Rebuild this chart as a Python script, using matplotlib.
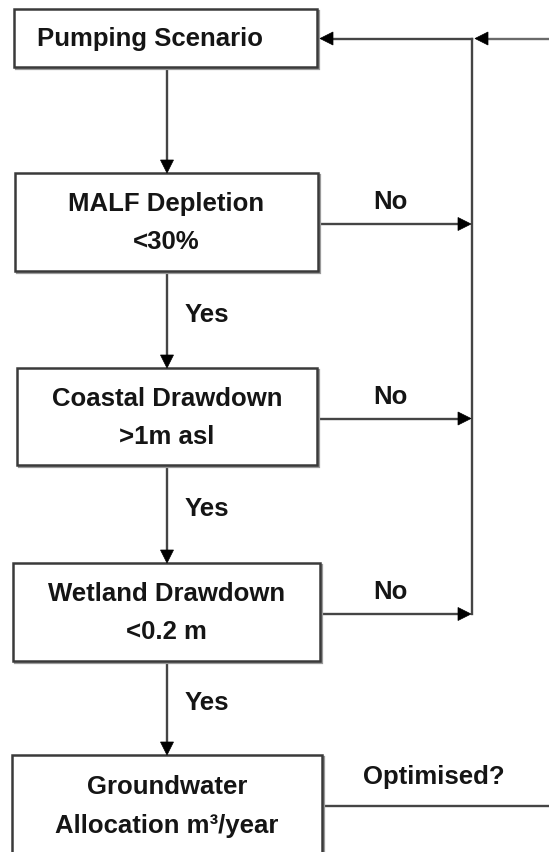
import matplotlib.pyplot as plt
from matplotlib.patches import Rectangle, Polygon

# flowchart text
box_labels = ["Pumping Scenario",
              "MALF Depletion\n<30%",
              "Coastal Drawdown\n>1m asl",
              "Wetland Drawdown\n<0.2 m",
              "Groundwater\nAllocation m\u00b3/year"]
yes_label = "Yes"
no_label = "No"
loop_label = "Optimised?"

W, H = 549, 852
fig = plt.figure(figsize=(W / 100, H / 100), dpi=100)
ax = fig.add_axes([0, 0, 1, 1])
ax.set_xlim(0, W)
ax.set_ylim(H, 0)
ax.axis('off')

# layout in pixels (y measured from the top)
box_x = [(14, 317), (15, 318), (17, 317), (13, 320), (12, 322)]
box_y = [(9, 67), (173, 271), (368, 465), (563, 661), (755, 856)]
stem_x = 167
loop_x = 472
top_y = 38.5
opt_y = 806
no_x = 390
yes_x = 207

font = dict(family=['Liberation Sans', 'DejaVu Sans'], fontweight='bold',
            fontsize=18.5, color='#151515')
line_col = '#454545'
head_col = '#000000'
lw = 1.7


def head(x, y, d, L=13, w=6.5):
    # filled arrowhead with its tip at (x, y)
    if d == 'down':
        pts = [(x, y), (x - w, y - L), (x + w, y - L)]
    elif d == 'right':
        pts = [(x, y), (x - L, y - w), (x - L, y + w)]
    else:
        pts = [(x, y), (x + L, y - w), (x + L, y + w)]
    ax.add_patch(Polygon(pts, closed=True, fc=head_col, ec=head_col, lw=0.5, zorder=4))


# boxes
for i, lab in enumerate(box_labels):
    x0, x1 = box_x[i]
    y0, y1 = box_y[i]
    ax.add_patch(Rectangle((x0 + 1.5, y0 + 1.5), x1 - x0, y1 - y0, fc='none',
                           ec='#9a9a9a', lw=1.6, zorder=2))
    ax.add_patch(Rectangle((x0, y0), x1 - x0, y1 - y0, fc='white',
                           ec='#3a3a3a', lw=1.8, zorder=3))
    lines = lab.split('\n')
    if len(lines) == 1:
        ax.text(x0 + 23, (y0 + y1) / 2 + 1, lab, ha='left', va='center', zorder=5, **font)
    else:
        cy = (y0 + y1) / 2 + 1
        ax.text((x0 + x1) / 2, cy - 19, lines[0], ha='center', va='center', zorder=5, **font)
        ax.text((x0 + x1) / 2, cy + 19, lines[1], ha='center', va='center', zorder=5, **font)

# downward arrows between boxes
for i in range(len(box_labels) - 1):
    yb = box_y[i][1]
    yt = box_y[i + 1][0]
    ax.plot([stem_x, stem_x], [yb, yt - 10], color=line_col, lw=lw, zorder=1)
    head(stem_x, yt, 'down')
    if i > 0:
        ax.text(yes_x, (yb + yt) / 2 - 5, yes_label, ha='center', va='center', **font)

# "No" branches to the return line
no_ys = []
for i in (1, 2, 3):
    x1 = box_x[i][1]
    y = (box_y[i][0] + box_y[i][1]) / 2 + 2
    no_ys.append(y)
    ax.plot([x1, loop_x - 10], [y, y], color=line_col, lw=lw, zorder=1)
    head(loop_x - 1, y, 'right')
    ax.text(no_x, box_y[i][0] + 29, no_label, ha='center', va='center', **font)

# return line up to the pumping scenario
ax.plot([loop_x, loop_x], [no_ys[-1], top_y], color=line_col, lw=lw, zorder=1)
ax.plot([box_x[0][1] + 10, loop_x], [top_y, top_y], color=line_col, lw=lw, zorder=1)
head(box_x[0][1] + 3, top_y, 'left')
ax.plot([loop_x + 10, W], [top_y, top_y], color='#6a6a6a', lw=lw, zorder=1)
head(loop_x + 3, top_y, 'left')

# optimised loop
ax.plot([box_x[4][1], W], [opt_y, opt_y], color=line_col, lw=lw, zorder=1)
ax.text(434, 777, loop_label, ha='center', va='center', **font)

fig.savefig('out.png', dpi=100)
